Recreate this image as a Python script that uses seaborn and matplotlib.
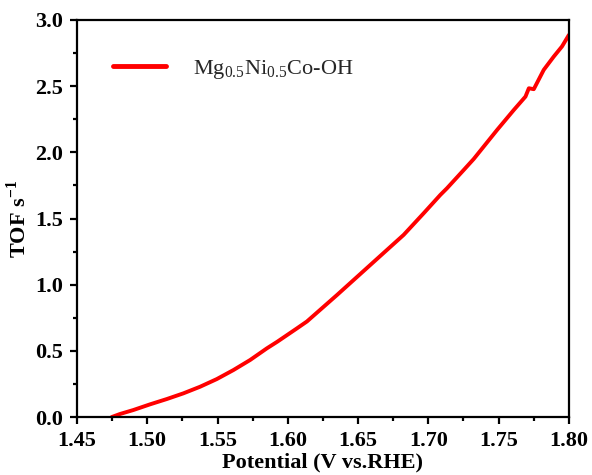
import seaborn as sns
import matplotlib.pyplot as plt
import pandas as pd

# Data
potential = [1.4747, 1.4806, 1.4901, 1.502, 1.5139, 1.5257, 1.5376, 1.5495,
             1.5613, 1.5732, 1.5851, 1.5925, 1.6065, 1.6136, 1.635, 1.6587,
             1.6824, 1.6967, 1.7085, 1.7133, 1.7252, 1.7323, 1.7489, 1.7608,
             1.7691, 1.7715, 1.775, 1.7821, 1.7892, 1.7951, 1.80]
tof = [0.0, 0.023, 0.053, 0.096, 0.136, 0.179, 0.229, 0.287,
       0.355, 0.431, 0.519, 0.569, 0.670, 0.722, 0.922, 1.149,
       1.376, 1.540, 1.678, 1.729, 1.867, 1.950, 2.169, 2.320,
       2.421, 2.484, 2.477, 2.623, 2.723, 2.800, 2.887]

df = pd.DataFrame({'Potential': potential, 'TOF': tof})

sns.set_style('ticks')
plt.rcParams['font.family'] = ['Liberation Serif', 'DejaVu Serif']
plt.rcParams['mathtext.fontset'] = 'custom'
plt.rcParams['mathtext.rm'] = 'Liberation Serif'
plt.rcParams['mathtext.bf'] = 'Liberation Serif:bold'

fig = plt.figure(figsize=(5.92, 4.75), dpi=100)
ax = fig.add_axes([0.130, 0.122, 0.831, 0.836])

sns.lineplot(data=df, x='Potential', y='TOF', color='#ff0000', linewidth=2.8,
             label=r'Mg$_{0.5}$Ni$_{0.5}$Co-OH', ax=ax, estimator=None, sort=False)
ax.lines[0].set_solid_joinstyle('round')

ax.set_xlim(1.45, 1.80)
ax.set_ylim(0, 3.0)
ax.set_xticks([1.45, 1.50, 1.55, 1.60, 1.65, 1.70, 1.75, 1.80])
ax.set_yticks([0.0, 0.5, 1.0, 1.5, 2.0, 2.5, 3.0])
ax.set_xticks([1.475, 1.525, 1.575, 1.625, 1.675, 1.725, 1.775], minor=True)
ax.set_yticks([0.25, 0.75, 1.25, 1.75, 2.25, 2.75], minor=True)
ax.set_xticklabels([f'{v:.2f}' for v in ax.get_xticks()])
ax.set_yticklabels([f'{v:.1f}' for v in ax.get_yticks()])

for s in ax.spines.values():
    s.set_linewidth(1.6)
    s.set_color('black')
    s.set_visible(True)
ax.tick_params(which='major', direction='out', length=5, width=1.6, labelsize=16,
               pad=5, color='black', labelcolor='black')
ax.tick_params(which='minor', direction='out', length=3, width=1.6, color='black')
for lab in ax.get_xticklabels() + ax.get_yticklabels():
    lab.set_fontweight('bold')

ax.set_xlabel('Potential (V vs.RHE)', fontsize=16, fontweight='bold', labelpad=1, color='black')
ax.set_ylabel(r'TOF s$^{\mathbf{-1}}$', fontsize=16, fontweight='bold', labelpad=3, color='black')

leg = ax.legend(loc='upper left', bbox_to_anchor=(0.032, 0.955), frameon=False,
                fontsize=16, handlelength=2.4, handletextpad=1.2)
for line in leg.get_lines():
    line.set_linewidth(3.5)

fig.savefig('out.png', dpi=100)
